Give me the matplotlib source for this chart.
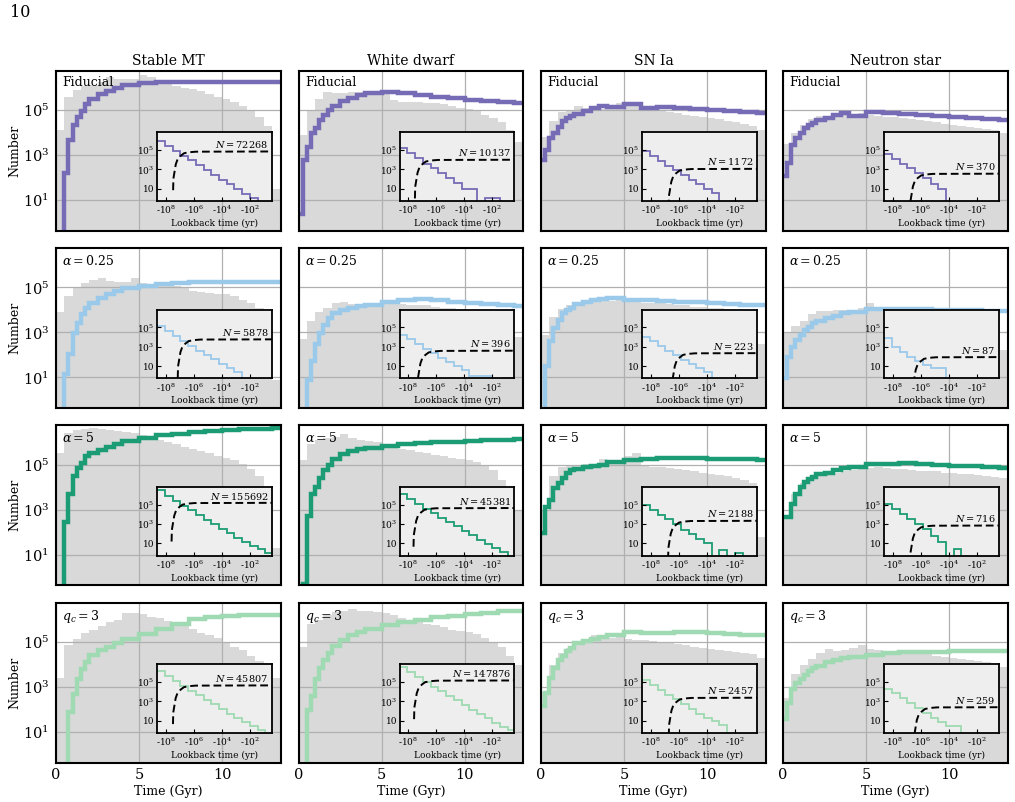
import matplotlib as mpl
mpl.use('Agg')
import matplotlib.pyplot as plt
import numpy as np
from matplotlib.ticker import FixedLocator, NullLocator, FixedFormatter

plt.rcParams['font.family'] = 'DejaVu Serif'
plt.rcParams['mathtext.fontset'] = 'dejavuserif'

columns = ['Stable MT', 'White dwarf', 'SN Ia', 'Neutron star']
rows = ['Fiducial', r'$\alpha = 0.25$', r'$\alpha = 5$', r'$q_c = 3$']
colours = ['#766cb6', '#9bc9ea', '#1c9c74', '#9fdab3']

# grey background histogram, log10(number) in 0.5 Gyr bins
hist_edges = [0.0, 0.5, 1.0, 1.5, 2.0, 2.5, 3.0, 3.5, 4.0, 4.5, 5.0, 5.5, 6.0, 6.5,
              7.0, 7.5, 8.0, 8.5, 9.0, 9.5, 10.0, 10.5, 11.0, 11.5, 12.0, 12.5, 13.0, 13.5]
grey = [
    [[4.1, 5.6, 5.9, 6.05, 6.1, 6.25, 6.45, 6.38, 6.38, 6.4, 6.55, 6.45, 6.25, 6.15, 6.05, 6.0, 5.95, 5.85, 5.7, 5.6, 5.5, 5.35, 5.2, 5.0, 4.7, 4.3, 1.5],
     [3.9, 5.0, 5.5, 5.8, 5.75, 5.75, 5.8, 5.8, 5.78, 5.78, 5.75, 5.45, 5.35, 5.35, 5.35, 5.3, 5.3, 5.25, 5.2, 5.1, 5.05, 4.95, 4.8, 4.65, 4.45, 4.1, 3.6],
     [3.8, 4.5, 4.9, 5.0, 5.2, 5.1, 5.05, 5.05, 5.1, 5.3, 5.35, 5.3, 5.1, 5.0, 4.95, 4.9, 4.85, 4.8, 4.75, 4.7, 4.65, 4.6, 4.5, 4.45, 4.4, 4.3, 4.1],
     [3.5, 4.0, 4.35, 4.6, 4.75, 4.7, 4.75, 4.8, 4.8, 4.85, 4.8, 4.75, 4.7, 4.7, 4.65, 4.6, 4.55, 4.5, 4.45, 4.4, 4.35, 4.3, 4.25, 4.2, 4.15, 4.1, 4.0]],
    [[3.9, 4.6, 5.0, 5.2, 5.35, 5.4, 5.3, 5.25, 5.25, 5.4, 5.2, 5.15, 5.1, 5.1, 5.05, 5.0, 4.85, 4.8, 4.75, 4.7, 4.7, 4.6, 4.45, 4.3, 4.1, 3.7, 0.9],
     [2.7, 3.5, 3.9, 4.1, 4.3, 4.35, 4.25, 4.25, 4.3, 4.25, 4.4, 4.45, 4.25, 4.2, 4.2, 4.2, 4.15, 4.1, 4.1, 4.05, 4.0, 4.0, 3.95, 3.9, 3.85, 3.7, 2.8],
     [2.9, 3.7, 4.05, 4.2, 4.35, 4.35, 4.4, 4.4, 4.4, 4.45, 4.5, 4.4, 4.3, 4.3, 4.3, 4.25, 4.2, 4.2, 4.15, 4.15, 4.1, 4.1, 4.05, 4.0, 3.95, 3.85, 2.5],
     [3.0, 3.3, 3.5, 3.8, 3.95, 3.95, 4.0, 4.0, 4.0, 4.1, 4.3, 4.1, 4.1, 4.05, 4.0, 4.0, 3.95, 3.9, 3.85, 3.8, 3.75, 3.7, 3.65, 3.55, 3.4, 2.9, 2.2]],
    [[5.5, 6.4, 6.55, 6.6, 6.65, 6.6, 6.55, 6.5, 6.45, 6.4, 6.3, 6.2, 6.1, 6.0, 5.9, 5.8, 5.7, 5.6, 5.5, 5.4, 5.3, 5.2, 5.05, 4.8, 4.5, 3.9, 1.3],
     [5.2, 5.9, 6.1, 6.2, 6.25, 6.35, 6.2, 6.1, 6.05, 6.0, 5.85, 5.75, 5.7, 5.65, 5.55, 5.5, 5.45, 5.4, 5.3, 5.25, 5.2, 5.1, 4.95, 4.75, 4.3, 3.8, 3.0],
     [3.0, 4.5, 4.9, 5.0, 5.0, 5.05, 5.0, 5.25, 5.1, 5.05, 5.4, 5.5, 4.95, 4.9, 4.9, 4.85, 4.8, 4.75, 4.7, 4.65, 4.6, 4.55, 4.5, 4.4, 4.3, 4.2, 1.8],
     [2.6, 3.7, 4.2, 4.4, 4.5, 4.6, 4.65, 4.7, 4.75, 4.8, 4.85, 4.9, 4.85, 4.8, 4.8, 4.75, 4.7, 4.7, 4.7, 4.65, 4.65, 4.6, 4.6, 4.55, 4.5, 4.45, 4.4]],
    [[3.4, 4.85, 5.15, 5.4, 5.55, 5.7, 5.9, 6.0, 6.3, 6.3, 6.25, 6.1, 6.05, 5.95, 5.8, 5.7, 5.6, 5.4, 5.3, 5.2, 5.0, 4.8, 4.65, 4.4, 4.15, 3.9, 3.4],
     [4.8, 5.8, 6.0, 6.2, 6.35, 6.4, 6.45, 6.4, 6.4, 6.35, 6.3, 6.2, 6.05, 5.98, 5.9, 5.8, 5.75, 5.65, 5.55, 5.5, 5.45, 5.35, 5.2, 5.0, 4.8, 4.4, 4.0],
     [2.8, 4.0, 4.5, 4.75, 4.9, 5.0, 5.3, 5.15, 5.2, 5.35, 5.15, 5.1, 5.1, 5.05, 5.0, 4.95, 4.9, 4.85, 4.8, 4.75, 4.7, 4.65, 4.6, 4.55, 4.5, 4.45, 4.3],
     [2.5, 3.6, 4.0, 4.25, 4.5, 4.7, 4.6, 4.65, 4.75, 4.85, 4.7, 4.65, 4.6, 4.6, 4.55, 4.5, 4.5, 4.45, 4.4, 4.35, 4.3, 4.25, 4.2, 4.15, 4.1, 4.0, 3.9]],
]

# coloured step line, log10(number); -1 means below the axis
line_edges = [0.0, 0.25, 0.5, 0.75, 1.0, 1.25, 1.5, 1.75, 2.0, 2.5, 3.0, 3.5, 4.0,
              5.0, 6.0, 7.0, 8.0, 9.0, 10.0, 11.0, 12.0, 13.0, 13.6]
lines = [
    [[-1, -1, 2.2, 3.67, 4.33, 4.7, 4.95, 5.27, 5.5, 5.7, 5.85, 5.97, 6.1, 6.2, 6.25, 6.27, 6.27, 6.27, 6.27, 6.26, 6.25, 6.24],
     [0.4, 2.78, 3.37, 3.96, 4.19, 4.56, 4.78, 5.0, 5.2, 5.4, 5.55, 5.68, 5.76, 5.8, 5.76, 5.68, 5.6, 5.53, 5.46, 5.4, 5.34, 5.3],
     [2.8, 3.24, 3.75, 3.97, 4.26, 4.5, 4.63, 4.72, 4.82, 4.97, 5.1, 5.18, 5.15, 5.25, 5.1, 5.15, 5.08, 5.05, 5.0, 4.95, 4.92, 4.88],
     [2.06, 2.65, 3.45, 3.75, 3.97, 4.2, 4.34, 4.42, 4.55, 4.65, 4.78, 4.88, 4.75, 4.92, 4.85, 4.82, 4.78, 4.74, 4.7, 4.66, 4.62, 4.58]],
    [[-1, -1, 1.15, 2.03, 2.99, 3.43, 3.8, 4.09, 4.3, 4.55, 4.7, 4.85, 4.97, 5.08, 5.15, 5.2, 5.23, 5.24, 5.24, 5.24, 5.24, 5.24],
     [-1, -1, 0.9, 1.74, 2.47, 2.99, 3.35, 3.65, 3.87, 4.01, 4.1, 4.16, 4.22, 4.35, 4.42, 4.48, 4.42, 4.36, 4.3, 4.26, 4.22, 4.19],
     [-1, 1.5, 2.62, 3.21, 3.57, 3.87, 4.0, 4.09, 4.24, 4.35, 4.45, 4.5, 4.55, 4.45, 4.45, 4.4, 4.36, 4.33, 4.3, 4.27, 4.23, 4.2],
     [0.96, 1.92, 2.36, 2.66, 2.9, 3.1, 3.25, 3.4, 3.52, 3.65, 3.75, 3.84, 3.9, 4.02, 4.05, 4.03, 4.02, 4.0, 4.0, 3.98, 3.97, 3.96]],
    [[-1, -1, 2.44, 3.7, 4.5, 4.85, 5.09, 5.38, 5.53, 5.65, 5.8, 5.92, 6.05, 6.2, 6.3, 6.38, 6.45, 6.5, 6.54, 6.57, 6.6, 6.62],
     [-1, -0.3, 2.7, 3.69, 4.0, 4.4, 4.75, 5.0, 5.24, 5.46, 5.6, 5.68, 5.75, 5.83, 5.9, 5.96, 6.0, 6.02, 6.05, 6.08, 6.1, 6.12],
     [1.95, 3.13, 3.43, 3.95, 4.17, 4.39, 4.61, 4.76, 4.83, 4.9, 4.94, 5.0, 5.1, 5.2, 5.27, 5.3, 5.3, 5.28, 5.27, 5.26, 5.25, 5.23],
     [2.66, 2.66, 3.25, 3.69, 3.99, 4.21, 4.35, 4.45, 4.57, 4.65, 4.75, 4.85, 4.9, 5.03, 5.02, 5.06, 5.02, 4.98, 4.95, 4.93, 4.9, 4.87]],
    [[-1, -1, -1, 1.89, 2.71, 3.37, 3.81, 4.11, 4.41, 4.63, 4.8, 4.95, 5.15, 5.35, 5.6, 5.82, 6.02, 6.12, 6.18, 6.19, 6.19, 6.19],
     [-1, -1, 2.0, 2.6, 3.34, 3.85, 4.22, 4.51, 4.81, 5.1, 5.3, 5.45, 5.6, 5.78, 5.9, 6.0, 6.1, 6.17, 6.24, 6.3, 6.36, 6.4],
     [2.16, 2.75, 3.41, 3.85, 4.22, 4.4, 4.6, 4.74, 4.96, 5.05, 5.15, 5.22, 5.33, 5.43, 5.4, 5.42, 5.45, 5.45, 5.42, 5.38, 5.33, 5.3],
     [1.57, 2.31, 2.9, 3.19, 3.35, 3.55, 3.71, 3.85, 3.95, 4.1, 4.2, 4.29, 4.35, 4.42, 4.5, 4.54, 4.57, 4.58, 4.59, 4.6, 4.6, 4.6]],
]

# inset: log10(lookback time / yr) bin edges (old -> recent) and log10(number)
inset_edges = [9.0, 8.05, 7.5, 6.95, 6.4, 5.85, 5.3, 4.75, 4.2, 3.65, 3.1, 2.55, 2.0, 1.45, 0.9, 0.35]
inset = [
    [[5.98, 5.42, 4.9, 4.41, 3.92, 3.43, 2.94, 2.45, 1.95, 1.46, 0.97, 0.48, 0.02, -1, -1],
     [5.2, 4.65, 4.15, 3.6, 3.1, 2.6, 2.1, 1.6, 1.0, 1.0, -1, 0.0, 0.0, -1, -1],
     [4.9, 4.4, 3.9, 3.4, 2.9, 2.4, 1.9, 1.5, 1.0, 0.6, -1, -1, -1, -1, -1],
     [4.55, 4.1, 3.6, 3.1, 2.6, 2.1, 1.5, 1.0, -1, -1, -1, -1, -1, -1, -1]],
    [[5.1, 4.6, 4.1, 3.6, 3.1, 2.6, 2.1, 1.7, 1.2, 0.8, 0.4, -1, -1, -1, -1],
     [4.25, 3.75, 3.3, 2.8, 2.3, 1.8, 1.4, 1.0, 0.6, 0.0, 0.0, 0.0, -1, -1, -1],
     [4.05, 3.6, 3.1, 2.6, 2.1, 1.6, 1.2, 0.8, 0.4, -1, -1, -1, -1, -1, -1],
     [3.85, 3.0, 2.45, 1.95, 1.55, 1.15, 0.85, 0.85, -1, -1, -1, -1, -1, -1, -1]],
    [[6.5, 5.9, 5.4, 4.9, 4.45, 3.95, 3.45, 3.0, 2.5, 2.05, 1.6, 1.15, 0.75, 0.4, 0.0],
     [6.05, 5.55, 5.05, 4.6, 4.1, 3.65, 3.2, 2.75, 2.3, 1.85, 1.4, 0.95, 0.5, 0.1, -1],
     [5.0, 4.48, 3.97, 3.52, 3.0, 2.41, 1.97, 1.45, 1.0, -1, 0.3, -1, 0.0, -1, -1],
     [5.1, 4.6, 4.05, 3.55, 3.0, 2.45, 1.8, 1.1, -1, 0.4, -1, -1, -1, -1, -1]],
    [[6.15, 5.6, 5.1, 4.6, 4.1, 3.65, 3.15, 2.7, 2.2, 1.75, 1.3, 0.85, 0.45, 0.06, -1],
     [6.5, 6.0, 5.5, 5.0, 4.5, 4.05, 3.55, 3.1, 2.6, 2.15, 1.7, 1.25, 0.8, 0.4, 0.0],
     [5.2, 4.7, 4.2, 3.7, 3.2, 2.7, 2.2, 1.7, 1.3, 0.95, 0.55, -1, -1, -1, -1],
     [4.33, 3.83, 3.33, 2.83, 2.33, 1.83, 1.33, 0.83, 0.43, 0.43, -1, -1, -1, -1, -1]],
]
# totals and where the dashed cumulative curve starts (log10 lookback)
totals = [[72268, 10137, 1172, 370],
          [5878, 396, 223, 87],
          [155692, 45381, 2188, 716],
          [45807, 147876, 2457, 259]]
dash_start = [[7.45, 7.5, 6.7, 6.73],
              [7.12, 7.3, 6.45, 6.53],
              [7.56, 7.6, 6.74, 6.73],
              [7.46, 7.56, 6.69, 6.45]]
# shape of the dashed curve (offsets in dex)
dash_dx = [0.02, 0.0, -0.17, -0.29, -0.52, -0.76, -1.1, -1.6, -9.0]
dash_dy = [-4.0, -2.8, -1.33, -0.84, -0.45, -0.19, -0.09, -0.03, 0.0]

W, H = 1015, 802
fig = plt.figure(figsize=(W / 100, H / 100), dpi=100)
lefts = [56, 298.5, 541, 783]
tops = [70.7, 248, 425.3, 602.7]
aw, ah = 225, 160

for i in range(4):
    for j in range(4):
        ax = fig.add_axes([lefts[j] / W, 1 - (tops[i] + ah) / H, aw / W, ah / H])
        ax.stairs(10 ** np.array(grey[i][j]), hist_edges, fill=True,
                  color='#d9d9d9', baseline=1e-3, zorder=1)
        ax.stairs(10 ** np.array(lines[i][j]), line_edges, color=colours[i],
                  lw=3.2, baseline=None, zorder=2)
        ax.set_yscale('log')
        ax.set_xlim(0, 13.55)
        ax.set_ylim(10 ** -0.36, 10 ** 6.75)
        ax.yaxis.set_major_locator(FixedLocator([10, 1e3, 1e5]))
        ax.yaxis.set_minor_locator(NullLocator())
        ax.set_xticks([0, 5, 10])
        ax.grid(True, color='#b0b0b0', lw=0.9)
        ax.tick_params(length=0, labelsize=10.5)
        ax.tick_params(axis='y', pad=5)
        ax.tick_params(axis='x', pad=4)
        for s in ax.spines.values():
            s.set_linewidth(1.5)
        if j > 0:
            ax.set_yticklabels([])
        else:
            ax.set_ylabel('Number', fontsize=9, labelpad=1)
        if i < 3:
            ax.set_xticklabels([])
        else:
            ax.set_xlabel('Time (Gyr)', fontsize=9, labelpad=2)
        if i == 0:
            ax.set_title(columns[j], fontsize=10, pad=4)
        ax.text(0.028, 0.965, rows[i], transform=ax.transAxes, fontsize=9,
                va='top', ha='left', zorder=3)

        # inset: recent lookback times
        axi = ax.inset_axes([0.45, 0.185, 0.51, 0.43])
        axi.set_facecolor('#eeeeee')
        axi.set_zorder(5)
        e = 10 ** np.array(inset_edges[::-1])
        v = 10 ** np.array(inset[i][j][::-1])
        axi.stairs(v, e, color=colours[i], lw=1.3, baseline=None)
        n = totals[i][j]
        dx = 10 ** (dash_start[i][j] + np.array(dash_dx))
        dy = 10 ** (np.log10(n) + np.array(dash_dy))
        axi.plot(dx, dy, color='black', ls=(0, (4, 2)), lw=1.4)
        axi.set_xscale('log')
        axi.set_yscale('log')
        axi.set_xlim(10 ** 8.6, 10 ** 0.43)
        axi.set_ylim(10 ** -0.27, 10 ** 6.83)
        axi.xaxis.set_major_locator(FixedLocator([1e8, 1e6, 1e4, 1e2]))
        axi.xaxis.set_major_formatter(FixedFormatter([r'-$10^{8}$', r'-$10^{6}$', r'-$10^{4}$', r'-$10^{2}$']))
        axi.xaxis.set_minor_locator(NullLocator())
        axi.yaxis.set_major_locator(FixedLocator([10, 1e3, 1e5]))
        axi.yaxis.set_major_formatter(FixedFormatter(['10', r'$10^{3}$', r'$10^{5}$']))
        axi.yaxis.set_minor_locator(NullLocator())
        axi.tick_params(direction='in', length=3, width=0.8, labelsize=6.5, pad=2)
        for s in axi.spines.values():
            s.set_linewidth(1.3)
        axi.set_xlabel('Lookback time (yr)', fontsize=6.5, labelpad=2)
        axi.text(4.9, n * 1.35, r'$N = %d$' % n, fontsize=7, ha='right', va='bottom')

fig.text(10 / W, 1 - 4 / H, '10', fontsize=11.5, va='top', ha='left')

fig.savefig('out.png', dpi=100)
